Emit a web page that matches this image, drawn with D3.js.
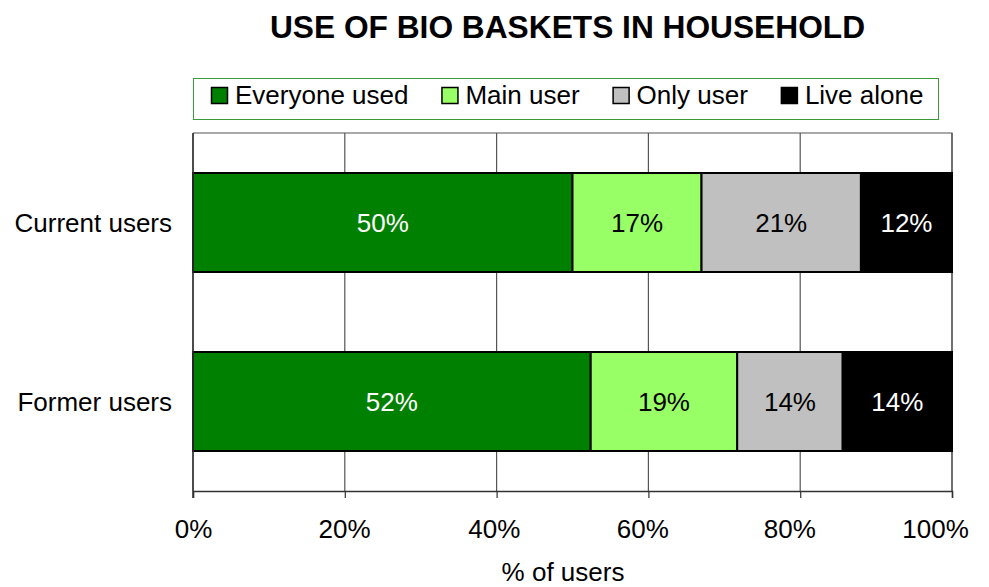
<!DOCTYPE html>
<html>
<head>
<meta charset="utf-8">
<script src="https://cdn.jsdelivr.net/npm/d3@7"></script>
<style>
  body { margin: 0; background: #fff; }
  text { font-family: "Liberation Sans", Arial, sans-serif; }
</style>
</head>
<body>
<div id="chart"></div>
<script>
// data
const categories = ["Current users", "Former users"];
const seriesNames = ["Everyone used", "Main user", "Only user", "Live alone"];
const everyoneUsed = [50, 52.4];
const mainUser = [17, 19.3];
const onlyUser = [21, 13.9];
const liveAlone = [12, 14.4];
const valueLabels = [["50%", "17%", "21%", "12%"], ["52%", "19%", "14%", "14%"]];
const xTicks = [0, 20, 40, 60, 80, 100];

const colors = ["#008000", "#99ff66", "#c0c0c0", "#000000"];
const labelColors = ["#fff", "#000", "#000", "#fff"];

const width = 989, height = 587;
const margin = {top: 133, right: 37, bottom: 96, left: 193};
const fs = "26px";

const svg = d3.select("#chart")
    .append("svg")
    .attr("width", width)
    .attr("height", height);

// build rows for the stack
const rows = categories.map((c, i) => ({
    cat: i,
    "Everyone used": everyoneUsed[i],
    "Main user": mainUser[i],
    "Only user": onlyUser[i],
    "Live alone": liveAlone[i]
}));

const x = d3.scaleLinear()
    .domain([0, 100])
    .range([margin.left, width - margin.right]);

const y = d3.scaleBand()
    .domain(d3.range(categories.length))
    .range([margin.top, height - margin.bottom])
    .paddingInner(0.447)
    .paddingOuter(0.2235);

const color = d3.scaleOrdinal().domain(seriesNames).range(colors);

// title
svg.append("text")
    .attr("x", (x(0) + x(100)) / 2 - 5)
    .attr("y", 38)
    .attr("text-anchor", "middle")
    .attr("font-size", "31.7px")
    .attr("font-weight", "bold")
    .text("USE OF BIO BASKETS IN HOUSEHOLD");

// vertical gridlines
svg.append("g")
    .selectAll("line")
    .data(xTicks)
    .join("line")
    .attr("x1", d => x(d))
    .attr("x2", d => x(d))
    .attr("y1", margin.top)
    .attr("y2", height - margin.bottom)
    .attr("stroke", "#555")
    .attr("stroke-width", 1.2);

// plot frame (top + right)
svg.append("path")
    .attr("d", `M${x(0)},${margin.top}H${x(100)}V${height - margin.bottom}`)
    .attr("fill", "none")
    .attr("stroke", "#555")
    .attr("stroke-width", 1.2);

// stacked bars
const stack = d3.stack().keys(seriesNames);
const layers = stack(rows);

const layer = svg.append("g")
    .selectAll("g")
    .data(layers)
    .join("g")
    .attr("fill", d => color(d.key));

layer.selectAll("rect")
    .data(d => d)
    .join("rect")
    .attr("x", d => x(d[0]))
    .attr("y", d => y(d.data.cat))
    .attr("width", d => x(d[1]) - x(d[0]))
    .attr("height", y.bandwidth())
    .attr("stroke", "#000")
    .attr("stroke-width", 2);

// value labels
layers.forEach((s, si) => {
    svg.append("g")
        .selectAll("text")
        .data(s)
        .join("text")
        .attr("x", d => (x(d[0]) + x(d[1])) / 2)
        .attr("y", d => y(d.data.cat) + y.bandwidth() / 2)
        .attr("dy", "0.36em")
        .attr("text-anchor", "middle")
        .attr("font-size", fs)
        .attr("fill", labelColors[si])
        .text(d => valueLabels[d.data.cat][si]);
});

// x axis
const xAxis = svg.append("g")
    .attr("transform", `translate(0,${height - margin.bottom})`)
    .call(d3.axisBottom(x).tickValues(xTicks).tickSize(7).tickPadding(21.5).tickFormat(d => d + "%"));
xAxis.select(".domain").attr("stroke", "#333").attr("stroke-width", 1.5);
xAxis.selectAll(".tick line").attr("stroke", "#333").attr("stroke-width", 1.2);
xAxis.selectAll(".tick text")
    .attr("font-size", fs)
    .attr("fill", "#000")
    .attr("dx", d => -0.0017 * d * d)   // labels drift left a bit, as in the original
    .style("font-family", "'Liberation Sans', Arial, sans-serif");

// y axis line
svg.append("line")
    .attr("x1", x(0)).attr("x2", x(0))
    .attr("y1", margin.top).attr("y2", height - margin.bottom + 7)
    .attr("stroke", "#333")
    .attr("stroke-width", 1.5);

// category labels
svg.append("g")
    .selectAll("text")
    .data(categories)
    .join("text")
    .attr("x", x(0) - 21)
    .attr("y", (d, i) => y(i) + y.bandwidth() / 2)
    .attr("dy", "0.36em")
    .attr("text-anchor", "end")
    .attr("font-size", fs)
    .text(d => d);

// x axis title
svg.append("text")
    .attr("x", 563)
    .attr("y", 581)
    .attr("text-anchor", "middle")
    .attr("font-size", fs)
    .text("% of users");

// legend
const legend = svg.append("g");
legend.append("rect")
    .attr("x", 193.5)
    .attr("y", 78.5)
    .attr("width", 745)
    .attr("height", 41)
    .attr("fill", "#fff")
    .attr("stroke", "#3a9a3a")
    .attr("stroke-width", 1);

let lx = 211;
seriesNames.forEach(name => {
    legend.append("rect")
        .attr("x", lx + 0.5)
        .attr("y", 87.5)
        .attr("width", 16)
        .attr("height", 16)
        .attr("fill", color(name))
        .attr("stroke", "#000")
        .attr("stroke-width", 1.5);
    const t = legend.append("text")
        .attr("x", lx + 24)
        .attr("y", 104)
        .attr("font-size", fs)
        .text(name);
    lx += 24 + t.node().getComputedTextLength() + 33;
});
</script>
</body>
</html>
